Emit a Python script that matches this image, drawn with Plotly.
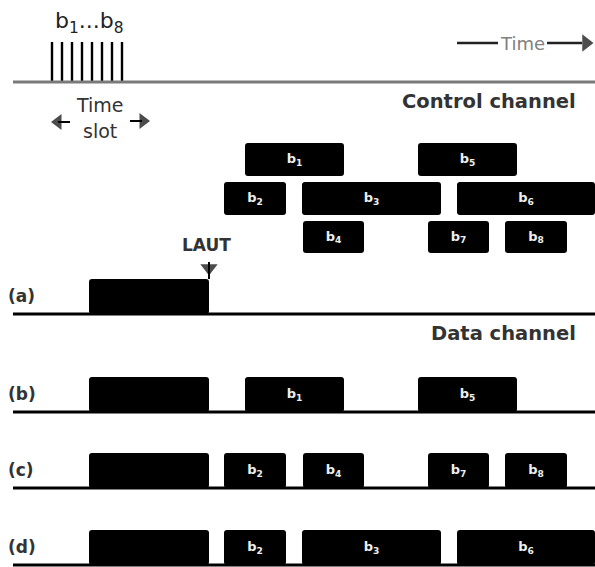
import plotly.graph_objects as go

# ---- data (time axis in drawing units) ----
burst_names = ["b1", "b2", "b3", "b4", "b5", "b6", "b7", "b8"]
burst_start = [245, 224, 302, 303, 418, 457, 428, 505]
burst_end = [344, 286, 441, 364, 517, 595, 489, 567]
control_row = [0, 1, 1, 2, 0, 1, 2, 2]
burst_marks = [52, 62, 72, 82, 92, 102, 112, 122]

existing_start = 89
existing_end = 209  # LAUT

sched_a = []
sched_b = ["b1", "b5"]
sched_c = ["b2", "b4", "b7", "b8"]
sched_d = ["b2", "b3", "b6"]
schedules = [sched_a, sched_b, sched_c, sched_d]
case_labels = ["(a)", "(b)", "(c)", "(d)"]

# ---- layout constants ----
W, H = 595, 567
ctrl_row_top = [143, 182, 221]
ctrl_row_h = [33, 33, 32]
data_line_y = [314, 412, 488, 565]
data_block_h = 35
line_x0 = 13

BOLD = "DejaVu Sans"

def lab(name):
    return "b<sub>%s</sub>" % name[1:]

fig = go.Figure()

# control channel bursts
for r in range(3):
    idx = [i for i in range(8) if control_row[i] == r]
    fig.add_trace(go.Bar(
        orientation="h",
        y=[ctrl_row_top[r] + ctrl_row_h[r] / 2] * len(idx),
        base=[burst_start[i] for i in idx],
        x=[burst_end[i] - burst_start[i] for i in idx],
        width=ctrl_row_h[r],
        marker=dict(color="black", line=dict(width=0)),
        text=[lab(burst_names[i]) for i in idx],
        textposition="inside", insidetextanchor="middle", textangle=0,
        constraintext="none",
        textfont=dict(color="#eeeeee", size=13, family=BOLD, weight="bold"),
        showlegend=False, hoverinfo="skip",
    ))

# data channel blocks
for k, sched in enumerate(schedules):
    idx = [burst_names.index(n) for n in sched]
    starts = [existing_start] + [burst_start[i] for i in idx]
    lens = [existing_end - existing_start] + [burst_end[i] - burst_start[i] for i in idx]
    texts = [""] + [lab(burst_names[i]) for i in idx]
    yc = data_line_y[k] - data_block_h / 2
    fig.add_trace(go.Bar(
        orientation="h",
        y=[yc] * len(starts), base=starts, x=lens, width=data_block_h,
        marker=dict(color="black", line=dict(width=0)),
        text=texts,
        textposition="inside", insidetextanchor="middle", textangle=0,
        constraintext="none",
        textfont=dict(color="#eeeeee", size=13, family=BOLD, weight="bold"),
        showlegend=False, hoverinfo="skip",
    ))

# burst marks on control line
bx, by = [], []
for m in burst_marks:
    bx += [m, m, None]
    by += [42, 82, None]
fig.add_trace(go.Scatter(x=bx, y=by, mode="lines", line=dict(color="black", width=2.4),
                         showlegend=False, hoverinfo="skip"))

shapes = []
# control line (gray)
shapes.append(dict(type="line", xref="x", yref="y", x0=line_x0, x1=W, y0=82, y1=82,
                   line=dict(color="#7a7a7a", width=3)))
# data lines
for yl in data_line_y:
    shapes.append(dict(type="line", xref="x", yref="y", x0=line_x0, x1=W, y0=yl, y1=yl,
                       line=dict(color="black", width=3)))
# LAUT stem
shapes.append(dict(type="line", xref="x", yref="y", x0=existing_end, x1=existing_end, y0=262, y1=279,
                   line=dict(color="black", width=2)))
# time arrow lines
shapes.append(dict(type="line", xref="x", yref="y", x0=457, x1=498, y0=43, y1=43,
                   line=dict(color="#222", width=2.5)))
shapes.append(dict(type="line", xref="x", yref="y", x0=547, x1=582, y0=43, y1=43,
                   line=dict(color="#222", width=2.5)))
# time-slot arrow tails
shapes.append(dict(type="line", xref="x", yref="y", x0=58, x1=70, y0=122, y1=122,
                   line=dict(color="black", width=2)))
shapes.append(dict(type="line", xref="x", yref="y", x0=130, x1=142, y0=121, y1=121,
                   line=dict(color="black", width=2)))

# arrowheads
fig.add_trace(go.Scatter(
    x=[586, 58, 143, existing_end], y=[43, 122, 121, 268], mode="markers",
    marker=dict(symbol=["triangle-right", "triangle-left", "triangle-right", "triangle-down"],
                size=[15, 14, 14, 15], color="black", line=dict(width=0)),
    showlegend=False, hoverinfo="skip"))

ann = []
def text(x, y, t, size, color="#222", bold=False, xanchor="center"):
    ann.append(dict(x=x, y=y, xref="x", yref="y", text=t, showarrow=False,
                    xanchor=xanchor, yanchor="middle",
                    font=dict(family=BOLD, size=size, color=color, weight="bold" if bold else "normal")))

text(89, 22, "b<sub>1</sub>...b<sub>8</sub>", 22, "#222")
text(100, 105, "Time", 19, "#333")
text(100, 131, "slot", 19, "#333")
text(522, 43, "Time", 18, "#808080")
text(578, 101, "Control channel", 19.5, "#333", True, "right")
text(578, 333, "Data channel", 19.5, "#333", True, "right")
text(206, 245, "LAUT", 17, "#333", True)
for k, lb in enumerate(case_labels):
    text(6, data_line_y[k] - 18, lb, 17, "#333", True, "left")

fig.update_layout(
    width=W, height=H, autosize=False,
    margin=dict(l=0, r=0, t=0, b=0),
    paper_bgcolor="white", plot_bgcolor="white",
    barmode="overlay", barcornerradius=3,
    xaxis=dict(range=[0, W], visible=False, fixedrange=True),
    yaxis=dict(range=[H, 0], visible=False, fixedrange=True),
    shapes=shapes, annotations=ann,
    uniformtext=dict(mode=False),
)

fig.write_html("out.html", config={"displayModeBar": False},
               post_script="document.body.style.margin='0';")
